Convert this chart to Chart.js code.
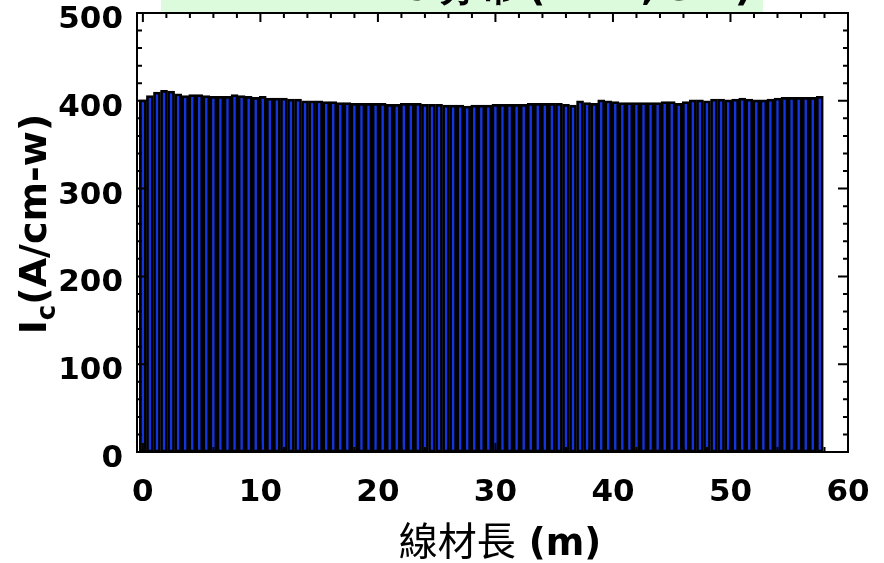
<!DOCTYPE html>
<html lang="zh-Hant">
<head>
    <meta charset="UTF-8">
    <title>線材長 Ic</title>
    <script src="https://cdn.jsdelivr.net/npm/chart.js"></script>
    <style>
        body { margin: 0; background: #ffffff; }
        #wrap { width: 884px; height: 563px; }
    </style>
</head>
<body>
    <div id="wrap">
        <canvas id="myChart" width="884" height="563"></canvas>
    </div>

    <script>
        // 線材位置 (m)
        const lengths = [
            0, 0.6, 1.2, 1.8, 2.4, 3, 3.6, 4.2, 4.8, 5.4,
            6, 6.6, 7.2, 7.8, 8.4, 9, 9.6, 10.2, 10.8, 11.4,
            12, 12.6, 13.2, 13.8, 14.4, 15, 15.6, 16.2, 16.8, 17.4,
            18, 18.6, 19.2, 19.8, 20.4, 21, 21.6, 22.2, 22.8, 23.4,
            24, 24.6, 25.2, 25.8, 26.4, 27, 27.6, 28.2, 28.8, 29.4,
            30, 30.6, 31.2, 31.8, 32.4, 33, 33.6, 34.2, 34.8, 35.4,
            36, 36.6, 37.2, 37.8, 38.4, 39, 39.6, 40.2, 40.8, 41.4,
            42, 42.6, 43.2, 43.8, 44.4, 45, 45.6, 46.2, 46.8, 47.4,
            48, 48.6, 49.2, 49.8, 50.4, 51, 51.6, 52.2, 52.8, 53.4,
            54, 54.6, 55.2, 55.8, 56.4, 57, 57.6
        ];
        // Ic (A/cm-w)
        const currents = [
            401, 406, 410, 412, 411, 408, 406, 407, 407, 406,
            405, 405, 405, 407, 406, 405, 404, 405, 403, 403,
            403, 402, 402, 400, 400, 400, 399, 399, 398, 398,
            397, 397, 397, 397, 397, 396, 396, 397, 397, 397,
            396, 396, 396, 395, 395, 395, 394, 395, 395, 395,
            396, 396, 396, 396, 396, 397, 397, 397, 397, 397,
            396, 395, 400, 398, 397, 401, 400, 399, 398, 398,
            398, 398, 398, 398, 399, 399, 397, 399, 401, 401,
            400, 402, 402, 401, 402, 403, 402, 401, 401, 402,
            403, 404, 404, 404, 404, 404, 405
        ];

        const xMajor = [0, 10, 20, 30, 40, 50, 60];
        const xMinor = [2, 4, 6, 8, 12, 14, 16, 18, 22, 24, 26, 28, 32, 34, 36, 38,
                        42, 44, 46, 48, 52, 54, 56, 58];
        const yMajor = [0, 100, 200, 300, 400, 500];
        const yMinor = [20, 40, 60, 80, 120, 140, 160, 180, 220, 240, 260, 280,
                        320, 340, 360, 380, 420, 440, 460, 480];

        const titleText = 'Ic 分布 (77 K, s.f.)';
        const xTitleCJK = '線材長';
        const xTitleUnit = ' (m)';

        const boldFont = '"DejaVu Sans", Arial, sans-serif';

        // 외곽선, 안쪽 눈금, 축 제목
        const framePlugin = {
            id: 'frame',
            beforeDraw(chart) {
                const ctx = chart.ctx;
                ctx.save();
                ctx.fillStyle = '#dcfadc';
                ctx.fillRect(161, 0, 602, 12);
                ctx.beginPath();
                ctx.rect(161, 0, 602, 12);
                ctx.clip();
                ctx.fillStyle = '#000';
                ctx.font = 'bold 38px ' + boldFont;
                ctx.textAlign = 'right';
                ctx.textBaseline = 'alphabetic';
                ctx.fillText(titleText, 752, 0);
                ctx.restore();
            },
            afterDatasetsDraw(chart) {
                const ctx = chart.ctx;
                const a = chart.chartArea;
                const xs = chart.scales.x, ys = chart.scales.y;
                ctx.save();
                ctx.strokeStyle = '#000';
                ctx.lineWidth = 2;
                ctx.strokeRect(a.left, a.top, a.right - a.left, a.bottom - a.top);

                ctx.beginPath();
                const xt = (list, len) => list.forEach(v => {
                    const p = xs.getPixelForValue(v);
                    ctx.moveTo(p, a.bottom); ctx.lineTo(p, a.bottom - len);
                    ctx.moveTo(p, a.top); ctx.lineTo(p, a.top + len);
                });
                const yt = (list, len) => list.forEach(v => {
                    const p = ys.getPixelForValue(v);
                    ctx.moveTo(a.left, p); ctx.lineTo(a.left + len, p);
                    ctx.moveTo(a.right, p); ctx.lineTo(a.right - len, p);
                });
                xt(xMajor, 9); xt(xMinor, 5);
                yt(yMajor, 10); yt(yMinor, 5);
                ctx.stroke();

                // y축 제목 I_c(A/cm-w)
                ctx.fillStyle = '#000';
                ctx.translate(50, 224);
                ctx.rotate(-Math.PI / 2);
                ctx.textBaseline = 'alphabetic';
                ctx.textAlign = 'left';
                const big = 'bold 38px ' + boldFont;
                const small = 'bold 26px ' + boldFont;
                ctx.font = big;
                const wI = ctx.measureText('I').width;
                const wRest = ctx.measureText('(A/cm-w)').width;
                ctx.font = small;
                const wc = ctx.measureText('c').width;
                let x0 = -(wI + wc + wRest) / 2;
                ctx.font = big;
                ctx.fillText('I', x0, -4);
                ctx.font = small;
                ctx.fillText('c', x0 + wI, 5);
                ctx.font = big;
                ctx.fillText('(A/cm-w)', x0 + wI + wc, -4);
                ctx.restore();

                // x축 제목
                ctx.save();
                ctx.fillStyle = '#000';
                ctx.textBaseline = 'alphabetic';
                ctx.textAlign = 'left';
                const cjk = '39px "Noto Sans CJK TC", "Noto Sans CJK JP", sans-serif';
                const unit = 'bold 37px ' + boldFont;
                ctx.font = cjk;
                const w1 = ctx.measureText(xTitleCJK).width;
                ctx.font = unit;
                const w2 = ctx.measureText(xTitleUnit).width;
                const sx = 500 - (w1 + w2) / 2;
                ctx.font = cjk;
                ctx.fillText(xTitleCJK, sx, 555);
                ctx.font = unit;
                ctx.fillText(xTitleUnit, sx + w1, 555);
                ctx.restore();
            }
        };

        const ctx = document.getElementById('myChart').getContext('2d');
        const chart = new Chart(ctx, {
            type: 'bar',
            data: {
                datasets: [{
                    data: lengths.map((x, i) => ({ x: x, y: currents[i] })),
                    backgroundColor: '#1434e0',
                    borderColor: '#000000',
                    borderWidth: 2.7,
                    borderSkipped: false,
                    barPercentage: 1.0,
                    categoryPercentage: 1.0
                }]
            },
            options: {
                responsive: false,
                animation: false,
                layout: { padding: { top: 13, right: 36, left: 0, bottom: 0 } },
                plugins: {
                    legend: { display: false },
                    tooltip: { enabled: false }
                },
                scales: {
                    x: {
                        type: 'linear',
                        min: -0.5,
                        max: 60,
                        offset: false,
                        grid: { display: false, drawTicks: false },
                        border: { display: false },
                        afterBuildTicks: s => { s.ticks = xMajor.map(v => ({ value: v })); },
                        afterFit: s => { s.height = 111; s.paddingLeft = 0; s.paddingRight = 0; },
                        ticks: {
                            color: '#000',
                            padding: 22,
                            maxRotation: 0,
                            autoSkip: false,
                            font: { family: boldFont, weight: 'bold', size: 31 }
                        }
                    },
                    y: {
                        min: 0,
                        max: 500,
                        grid: { display: false, drawTicks: false },
                        border: { display: false },
                        afterBuildTicks: s => { s.ticks = yMajor.map(v => ({ value: v })); },
                        afterFit: s => { s.width = 137; s.paddingTop = 0; s.paddingBottom = 0; },
                        ticks: {
                            color: '#000',
                            padding: 14,
                            labelOffset: 7,
                            font: { family: boldFont, weight: 'bold', size: 31 }
                        }
                    }
                }
            },
            plugins: [framePlugin]
        });
    </script>
</body>
</html>
